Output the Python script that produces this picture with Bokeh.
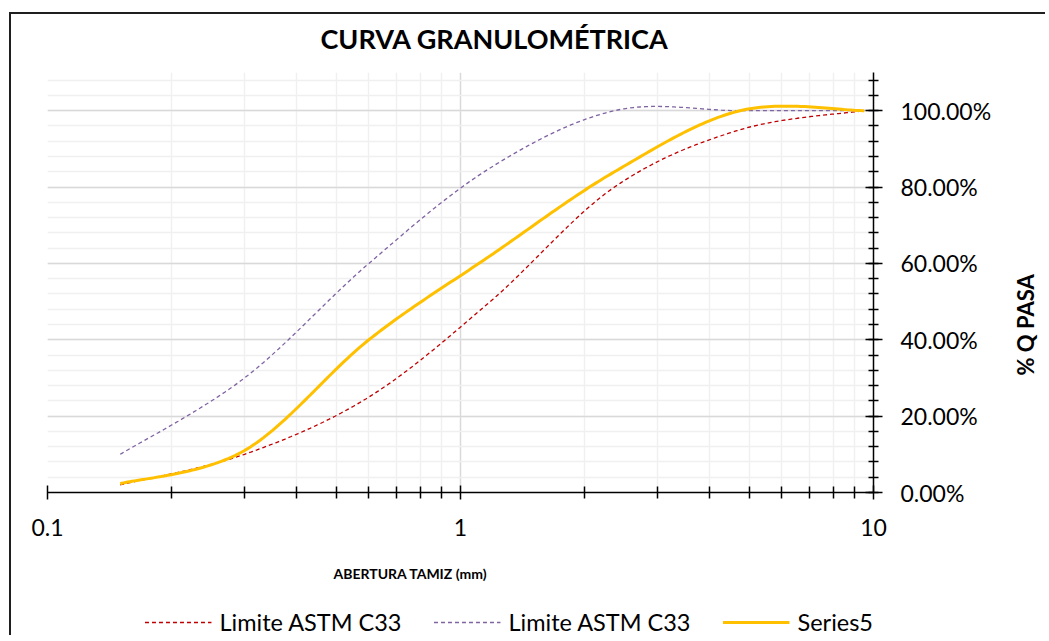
import numpy as np
from bokeh.plotting import figure
from bokeh.layouts import row, column
from bokeh.models import (FixedTicker, NumeralTickFormatter, Title, Legend, LegendItem,
                          Range1d, InlineStyleSheet)
from bokeh.embed import file_html
from bokeh.resources import INLINE

# ---- data ----
sieve_mm = [0.15, 0.3, 0.6, 1.18, 2.36, 4.75, 9.5]
limit_low = [0.02, 0.10, 0.25, 0.50, 0.80, 0.95, 1.00]
limit_high = [0.10, 0.30, 0.60, 0.85, 1.00, 1.00, 1.00]
series5 = [0.023, 0.11, 0.40, 0.62, 0.84, 1.00, 1.00]

series_names = ["Limite ASTM C33", "Limite ASTM C33", "Series5"]
x_ticks = [0.1, 1, 10]
x_tick_labels = ["0.1", "1", "10"]
x_minor = [0.2, 0.3, 0.4, 0.5, 0.6, 0.7, 0.8, 0.9, 2, 3, 4, 5, 6, 7, 8, 9]
y_ticks = [0.0, 0.2, 0.4, 0.6, 0.8, 1.0]
y_minor = [i * 0.04 for i in range(28)]

FONT = "Lato"
RED, PURPLE, YELLOW = "#C00000", "#8064A2", "#FFC000"


def excel_smooth(xs, ys, n=40):
    """Excel-style smoothed line (Catmull-Rom Bezier) in log10(x) / y space."""
    P = np.column_stack([np.log10(xs), np.asarray(ys, dtype=float)])
    m = len(P)
    out = []
    for i in range(m - 1):
        p0 = P[i - 1] if i > 0 else P[i]
        p1 = P[i]
        p2 = P[i + 1]
        p3 = P[i + 2] if i + 2 < m else P[i + 1]
        c1 = p1 + (p2 - p0) / 6.0
        c2 = p2 - (p3 - p1) / 6.0
        t = np.linspace(0, 1, n, endpoint=(i == m - 2))[:, None]
        b = ((1 - t) ** 3) * p1 + 3 * ((1 - t) ** 2) * t * c1 + 3 * (1 - t) * t ** 2 * c2 + t ** 3 * p2
        out.append(b)
    B = np.vstack(out)
    return 10 ** B[:, 0], B[:, 1]


def border_css(top=None, left=None):
    rules = []
    if top is not None:
        rules.append("border-top: 2px solid #1f1f1f;")
    if left is not None:
        rules.append("border-left: 2px solid #1f1f1f;")
    return InlineStyleSheet(css=(
        ":host { position: relative; }\n"
        ":host::after { content: ''; position: absolute; pointer-events: none;"
        f" left: {left if left is not None else 0}px; top: {top if top is not None else 0}px;"
        " right: 0px; bottom: 0px; " + " ".join(rules) + " }"))


MAIN_W = 1008
RIGHT_PAD = MAIN_W - 47 - 826
MAIN_H_BOTTOM = 117
STRIP_H = 26
TOTAL_H = 72 + 420 + MAIN_H_BOTTOM + STRIP_H

# ================= main chart =================
p = figure(frame_width=826, frame_height=420, x_axis_type="log",
           x_range=Range1d(0.1, 10), y_range=Range1d(0, 1.1),
           y_axis_location="right", output_backend="svg", toolbar_location=None,
           min_border_left=47, min_border_top=72, min_border_right=RIGHT_PAD,
           min_border_bottom=MAIN_H_BOTTOM)
p.outline_line_color = None
p.background_fill_color = "white"
p.border_fill_color = "white"
p.stylesheets = [border_css(top=12, left=9)]

p.title.text = "CURVA GRANULOMÉTRICA"
p.title.text_font = FONT
p.title.text_font_size = "27px"
p.title.text_font_style = "bold"
p.title.text_color = "black"
p.title.align = "left"
p.title.offset = 273
p.title.standoff = 36

xa = p.xaxis[0]
xa.ticker = FixedTicker(ticks=x_ticks, minor_ticks=x_minor)
xa.major_label_overrides = {t: l for t, l in zip(x_ticks, x_tick_labels)}
xa.major_label_text_font = FONT
xa.major_label_text_font_size = "23px"
xa.major_label_text_color = "black"
xa.major_label_standoff = 19
xa.axis_line_color = "black"
xa.axis_line_width = 1.5
xa.major_tick_line_color = "black"
xa.minor_tick_line_color = "black"
xa.major_tick_line_width = 1.5
xa.minor_tick_line_width = 1.5
xa.major_tick_in = 7
xa.major_tick_out = 7
xa.minor_tick_in = 6
xa.minor_tick_out = 6

ya = p.yaxis[0]
ya.ticker = FixedTicker(ticks=y_ticks, minor_ticks=y_minor)
ya.formatter = NumeralTickFormatter(format="0.00%")
ya.major_label_text_font = FONT
ya.major_label_text_font_size = "23px"
ya.major_label_text_color = "black"
ya.major_label_standoff = 18
ya.axis_line_color = "black"
ya.axis_line_width = 1.5
ya.major_tick_line_color = "black"
ya.minor_tick_line_color = "black"
ya.major_tick_line_width = 1.5
ya.minor_tick_line_width = 1.5
ya.major_tick_in = 8
ya.major_tick_out = 9
ya.minor_tick_in = 5
ya.minor_tick_out = 5

for g in (p.xgrid[0], p.ygrid[0]):
    g.grid_line_color = "#d9d9d9"
    g.grid_line_width = 1.5
    g.minor_grid_line_color = "#f0f0f0"
    g.minor_grid_line_width = 1.5

lx, ly = excel_smooth(sieve_mm, limit_low)
hx, hy = excel_smooth(sieve_mm, limit_high)
sx, sy = excel_smooth(sieve_mm, series5)
curves = [(lx, ly, dict(line_color=RED, line_width=1.3, line_dash="4 3")),
          (hx, hy, dict(line_color=PURPLE, line_width=1.3, line_dash="4 3")),
          (sx, sy, dict(line_color=YELLOW, line_width=3))]
for cx, cy, style in curves:
    p.line(cx, cy, **style)

xt = Title(text="ABERTURA TAMIZ (mm)", text_font=FONT, text_font_size="14px",
           text_font_style="bold", text_color="black", align="left", offset=286,
           standoff=49)
p.add_layout(xt, "below")

# ================= legend strip =================
# same series drawn on a range where they fall outside the view: only the legend shows
pl = figure(width=MAIN_W, height=STRIP_H, x_range=Range1d(-10, -9), y_range=Range1d(0, 1),
            x_axis_location=None, y_axis_location=None, toolbar_location=None,
            output_backend="svg", min_border_left=0, min_border_top=0,
            min_border_bottom=0, min_border_right=RIGHT_PAD)
pl.outline_line_color = None
pl.grid.visible = False
pl.background_fill_color = "white"
pl.border_fill_color = "white"
pl.stylesheets = [border_css(left=9)]
keys = [pl.line(cx, cy, **style) for cx, cy, style in curves]
legend = Legend(items=[LegendItem(label=n, renderers=[r])
                       for n, r in zip(series_names, keys)],
                orientation="horizontal", location="center_right",
                glyph_width=67, glyph_height=20, label_standoff=8, spacing=32,
                padding=0, margin=0, border_line_color=None,
                background_fill_alpha=0,
                label_text_font=FONT, label_text_font_size="23.5px",
                label_text_color="black")
pl.add_layout(legend, "center")

# ================= y axis title strip (reads bottom to top) =================
py = figure(width=37, height=TOTAL_H, x_range=Range1d(0, 1), y_range=Range1d(0, 1),
            x_axis_location=None, y_axis_location=None, toolbar_location=None,
            output_backend="svg", min_border_left=0, min_border_top=0,
            min_border_bottom=0, min_border_right=0)
py.outline_line_color = None
py.grid.visible = False
py.background_fill_color = "white"
py.border_fill_color = "white"
py.stylesheets = [border_css(top=12)]
py.add_layout(Title(text="% Q PASA", text_font=FONT, text_font_size="22px",
                    text_font_style="bold", text_color="black", align="left",
                    offset=TOTAL_H - 375, standoff=2), "left")

layout = row(column(p, pl, spacing=0), py, spacing=0)

open("out.html", "w").write(file_html(layout, INLINE))
